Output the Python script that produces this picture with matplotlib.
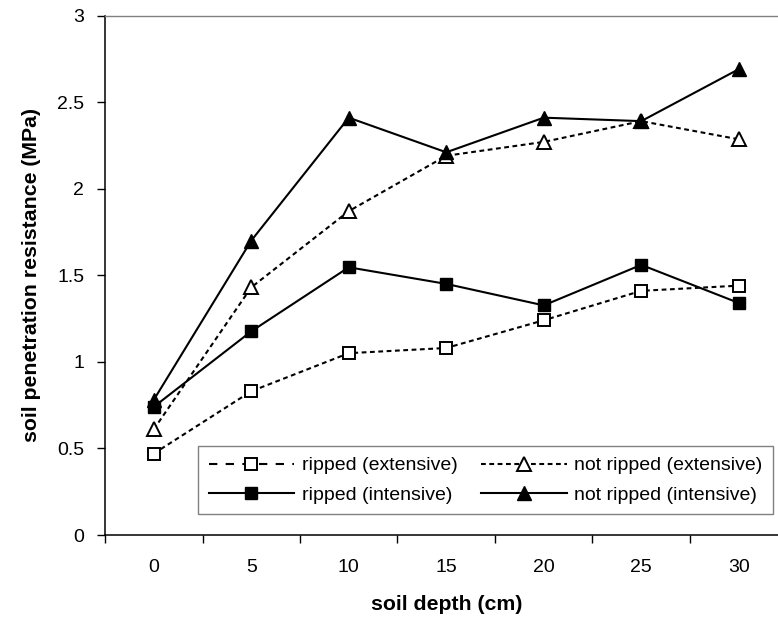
import matplotlib
matplotlib.use("Agg")
import matplotlib.pyplot as plt
from matplotlib.lines import Line2D

plt.rcParams['font.family'] = ['Liberation Sans', 'DejaVu Sans']

depth = [0, 5, 10, 15, 20, 25, 30]
ripped_ext = [0.47, 0.83, 1.05, 1.08, 1.24, 1.41, 1.44]
notripped_ext = [0.61, 1.43, 1.87, 2.19, 2.27, 2.39, 2.285]
ripped_int = [0.74, 1.176, 1.546, 1.45, 1.326, 1.56, 1.34]
notripped_int = [0.78, 1.70, 2.41, 2.21, 2.41, 2.39, 2.69]

labels = ["ripped (extensive)", "ripped (intensive)",
          "not ripped (extensive)", "not ripped (intensive)"]

W, H = 778, 620
fig = plt.figure(figsize=(W / 100, H / 100), dpi=100)
left_px, right_px, top_px, bot_px = 105, 105 + 7 * 97.5, 15.5, 535
ax = fig.add_axes([left_px / W, 1 - bot_px / H,
                   (right_px - left_px) / W, (bot_px - top_px) / H])

x = list(range(len(depth)))
lw = 1.5
dash = (2.3, 1.7)

ax.plot(x, ripped_ext, color='black', lw=lw, dashes=dash, marker='s', ms=9,
        mfc='white', mec='black', mew=1.4, zorder=3)
ax.plot(x, notripped_ext, color='black', lw=lw, dashes=dash, marker='^', ms=10.5,
        mfc='white', mec='black', mew=1.4, zorder=3)
ax.plot(x, ripped_int, color='black', lw=lw, ls='-', marker='s', ms=9,
        mfc='black', mec='black', zorder=4)
ax.plot(x, notripped_int, color='black', lw=lw, ls='-', marker='^', ms=10.5,
        mfc='black', mec='black', zorder=4)

ax.set_xlim(-0.5, len(depth) - 0.5)
ax.set_ylim(0, 3)
ax.set_yticks([0, 0.5, 1, 1.5, 2, 2.5, 3])
ax.set_yticklabels(['0', '0.5', '1', '1.5', '2', '2.5', '3'])
ax.tick_params(axis='y', direction='out', length=6, width=1, pad=9, labelsize=14)

ax.set_xticks([i - 0.5 for i in range(len(depth) + 1)])
ax.set_xticklabels([])
ax.set_xticks(x, minor=True)
ax.set_xticklabels([str(d) for d in depth], minor=True)
ax.tick_params(axis='x', which='major', direction='out', length=5.5, width=1)
ax.tick_params(axis='x', which='minor', length=0, pad=17, labelsize=14)

for s in ['left', 'bottom']:
    ax.spines[s].set_color('black')
    ax.spines[s].set_linewidth(1.1)
for s in ['top', 'right']:
    ax.spines[s].set_color('#808080')
    ax.spines[s].set_linewidth(1.0)

handles = [
    Line2D([], [], color='black', lw=lw, dashes=(4, 4), marker='s', ms=9,
           mfc='white', mec='black', mew=1.4),
    Line2D([], [], color='black', lw=lw, ls='-', marker='s', ms=9,
           mfc='black', mec='black'),
    Line2D([], [], color='black', lw=lw, dashes=dash, marker='^', ms=10.5,
           mfc='white', mec='black', mew=1.4),
    Line2D([], [], color='black', lw=lw, ls='-', marker='^', ms=10.5,
           mfc='black', mec='black'),
]
leg = fig.legend(handles, labels, ncol=2, loc='upper left',
                 bbox_to_anchor=(198 / W, 1 - 446 / H), borderaxespad=0,
                 fontsize=14, frameon=True, fancybox=False, framealpha=1,
                 edgecolor='#808080', handlelength=4.4, handletextpad=0.4,
                 columnspacing=1.2, labelspacing=0.6, borderpad=0.55)
leg.get_frame().set_linewidth(1.0)

fig.text(32 / W, 1 - 275 / H, "soil penetration resistance (MPa)", rotation=90,
         ha='center', va='center', fontsize=15.3, fontweight='bold')
fig.text((left_px + right_px) / 2 / W, 1 - 604 / H, "soil depth (cm)",
         ha='center', va='center', fontsize=15.3, fontweight='bold')

fig.savefig("out.png", dpi=100)
